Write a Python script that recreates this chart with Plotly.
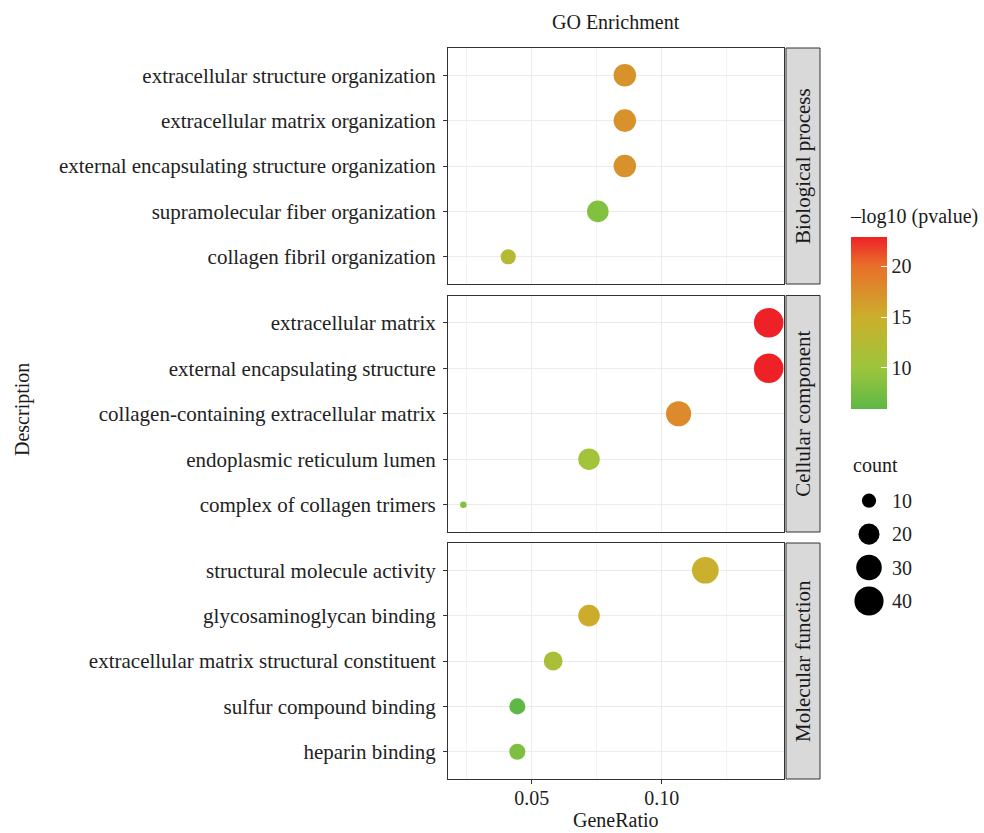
import plotly.graph_objects as go

# ---------------- data ----------------
bp_terms = ["extracellular structure organization", "extracellular matrix organization",
            "external encapsulating structure organization", "supramolecular fiber organization",
            "collagen fibril organization"]
bp_ratio = [0.0858, 0.0858, 0.0858, 0.0754, 0.0409]
bp_count = [23, 23, 23, 21, 11]
bp_logp = [17.3, 17.3, 17.3, 8.3, 12.5]

cc_terms = ["extracellular matrix", "external encapsulating structure",
            "collagen-containing extracellular matrix", "endoplasmic reticulum lumen",
            "complex of collagen trimers"]
cc_ratio = [0.1412, 0.1412, 0.1065, 0.0720, 0.0236]
cc_count = [41, 41, 29, 21, 6]
cc_logp = [22.9, 22.9, 17.9, 10.5, 8.4]

mf_terms = ["structural molecule activity", "glycosaminoglycan binding",
            "extracellular matrix structural constituent", "sulfur compound binding",
            "heparin binding"]
mf_ratio = [0.1168, 0.0720, 0.0582, 0.0444, 0.0444]
mf_count = [33, 21, 16, 12, 12]
mf_logp = [14.8, 15.2, 11.5, 5.95, 8.0]

facets = ["Biological process", "Cellular component", "Molecular function"]
size_breaks = [10, 20, 30, 40]
x_ticks = [0.05, 0.10]
x_minor = [0.025, 0.075, 0.125]

# ---------------- scales ----------------
all_counts = bp_count + cc_count + mf_count
all_logp = bp_logp + cc_logp + mf_logp
cmin, cmax = min(all_logp), max(all_logp)
smin, smax = min(all_counts), max(all_counts)


def size_scale(c):
    r = (c - smin) / (smax - smin)
    r = max(r, 0)
    return 6.5 + 23.0 * r ** 0.5


colorscale = [[0.0, "#5DB846"], [0.24, "#9DC53C"], [0.53, "#CBAF2C"],
              [0.83, "#E8702A"], [1.0, "#EE2226"]]

FONT = "Liberation Serif"
TXT = "#222222"
FS = 21
FN = 20

W, H = 984, 833
ML, MR, MT, MB = 448, 0, 48, 54
PW = W - ML - MR
PH = H - MT - MB


def px_x(px):
    return (px - ML) / PW


def px_y(py):
    return (H - MB - py) / PH


panel_x = [px_x(448), px_x(784)]
panel_y = [(px_y(284), px_y(48)), (px_y(532), px_y(295.5)), (px_y(779), px_y(543))]

fig = go.Figure()

groups = [(bp_terms, bp_ratio, bp_count, bp_logp),
          (cc_terms, cc_ratio, cc_count, cc_logp),
          (mf_terms, mf_ratio, mf_count, mf_logp)]

for i, (terms, ratio, count, logp) in enumerate(groups):
    ax = "" if i == 0 else str(i + 1)
    marker = dict(size=[size_scale(c) for c in count], color=logp,
                  colorscale=colorscale, cmin=cmin, cmax=cmax,
                  line=dict(width=0), opacity=1, showscale=(i == 0))
    if i == 0:
        marker["colorbar"] = dict(
            x=px_x(851), xanchor="left", xpad=0,
            y=px_y(323), yanchor="middle", ypad=0,
            lenmode="pixels", len=172, thickness=36,
            outlinewidth=0,
            tickvals=[10, 15, 20], ticks="inside", ticklen=6,
            tickcolor="white", tickwidth=1,
            tickfont=dict(family=FONT, size=FN, color=TXT),
        )
    fig.add_trace(go.Scatter(
        x=ratio, y=terms, mode="markers",
        xaxis="x" + ax, yaxis="y" + ax, marker=marker,
        showlegend=False, hoverinfo="x+y"))

    xa = dict(domain=panel_x, range=[0.0177, 0.1471], showgrid=True,
              gridcolor="#EBEBEB", gridwidth=1.2, zeroline=False,
              tickvals=x_ticks, ticktext=["0.05", "0.10"],
              minor=dict(tickvals=x_minor, showgrid=True, gridcolor="#F2F2F2",
                         gridwidth=0.6, ticks=""),
              showline=True, mirror=True, linecolor="#333333", linewidth=1,
              ticks="outside" if i == 2 else "", ticklen=4, tickcolor="#333333",
              showticklabels=(i == 2), ticklabelstandoff=-3,
              tickfont=dict(family=FONT, size=FN, color=TXT),
              anchor="y" + ax)
    if i < 2:
        xa["matches"] = "x3"
    ya = dict(domain=list(panel_y[i]), type="category", categoryorder="array",
              categoryarray=terms, range=[4.6, -0.6], showgrid=True,
              gridcolor="#EBEBEB", gridwidth=1.2, zeroline=False,
              showline=True, mirror=True, linecolor="#333333", linewidth=1,
              ticks="outside", ticklen=4, tickcolor="#333333",
              tickfont=dict(family=FONT, size=FS, color=TXT),
              ticklabelstandoff=3,
              anchor="x" + ax)
    fig.layout["xaxis" + ax] = xa
    fig.layout["yaxis" + ax] = ya

# size legend (drawn from size_breaks through the same size scale)
fig.add_trace(go.Scatter(
    x=[0] * len(size_breaks), y=[str(b) for b in size_breaks], mode="markers",
    xaxis="x4", yaxis="y4",
    marker=dict(size=[size_scale(b) for b in size_breaks], color="#000000",
                line=dict(width=0), opacity=1),
    showlegend=False, hoverinfo="skip"))
fig.layout["xaxis4"] = dict(domain=[px_x(853), px_x(885)], range=[-1, 1], visible=False,
                            anchor="y4", fixedrange=True)
fig.layout["yaxis4"] = dict(domain=[px_y(617.7), px_y(484)], type="category",
                            categoryorder="array", categoryarray=[str(b) for b in size_breaks],
                            range=[3.5, -0.5], side="right", anchor="x4",
                            showgrid=False, zeroline=False, showline=False, ticks="",
                            tickfont=dict(family=FONT, size=FN, color=TXT),
                            ticklabelstandoff=6, fixedrange=True)

shapes = []
annotations = []
for i, name in enumerate(facets):
    y0, y1 = panel_y[i]
    shapes.append(dict(type="rect", xref="paper", yref="paper",
                       x0=px_x(786), x1=px_x(820), y0=y0, y1=y1,
                       fillcolor="#D9D9D9", line=dict(color="#333333", width=1), layer="below"))
    annotations.append(dict(text=name, xref="paper", yref="paper",
                            x=px_x(803), y=(y0 + y1) / 2, showarrow=False, textangle=-90,
                            font=dict(family=FONT, size=FS, color="#1A1A1A"),
                            xanchor="center", yanchor="middle"))

annotations += [
    dict(text="GO Enrichment", xref="paper", yref="paper", x=px_x(616), y=px_y(22),
         showarrow=False, font=dict(family=FONT, size=FS - 1, color="#1A1A1A"),
         xanchor="center", yanchor="middle"),
    dict(text="GeneRatio", xref="paper", yref="paper", x=px_x(616), y=px_y(820),
         showarrow=False, font=dict(family=FONT, size=FS - 1, color="#1A1A1A"),
         xanchor="center", yanchor="middle"),
    dict(text="Description", xref="paper", yref="paper", x=px_x(22), y=px_y(410),
         showarrow=False, textangle=-90, font=dict(family=FONT, size=FS - 1, color="#1A1A1A"),
         xanchor="center", yanchor="middle"),
    dict(text="\u2013log10 (pvalue)", xref="paper", yref="paper", x=px_x(848), y=px_y(216),
         showarrow=False, font=dict(family=FONT, size=FS - 1, color="#1A1A1A"),
         xanchor="left", yanchor="middle"),
    dict(text="count", xref="paper", yref="paper", x=px_x(851), y=px_y(465),
         showarrow=False, font=dict(family=FONT, size=FS - 1, color="#1A1A1A"),
         xanchor="left", yanchor="middle"),
]

fig.update_layout(width=W, height=H, margin=dict(l=ML, r=MR, t=MT, b=MB, autoexpand=False),
                  paper_bgcolor="white", plot_bgcolor="white",
                  shapes=shapes, annotations=annotations,
                  font=dict(family=FONT, size=FS, color=TXT), showlegend=False)

fig.write_html("out.html")
